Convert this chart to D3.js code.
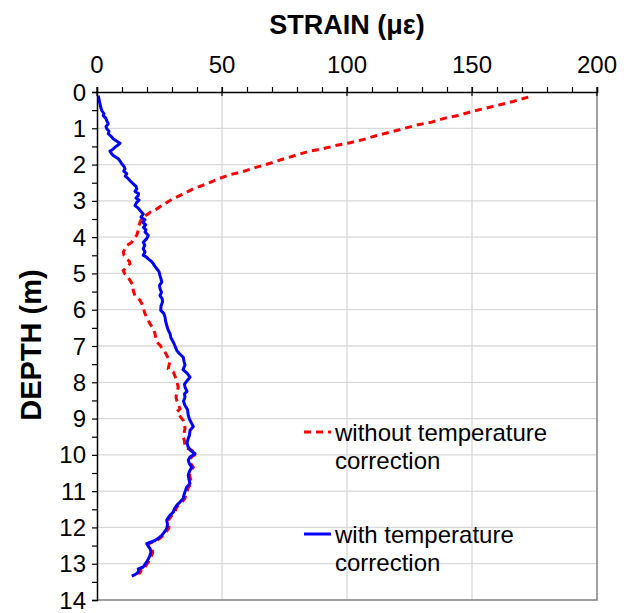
<!DOCTYPE html>
<html>
<head>
<meta charset="utf-8">
<script src="https://cdn.jsdelivr.net/npm/d3@7"></script>
<style>
  body { margin: 0; background: #fff; }
  text { font-family: Arial, "Liberation Sans", sans-serif; fill: #000; }
</style>
</head>
<body>
<div id="chart"></div>
<script>
// Strain profile along the pile
const xTicks = [0, 50, 100, 150, 200];
const yTicks = d3.range(0, 15);

// without temperature correction
const depthRaw = [0.14, 0.20, 0.26, 0.35, 0.44, 0.54, 0.65, 0.72, 0.83, 0.90, 1.01, 1.11, 1.20, 1.31, 1.40,
  1.47, 1.56, 1.64, 1.75, 1.86, 1.95, 2.07, 2.19, 2.28, 2.41, 2.55, 2.67, 2.83, 2.96, 3.05, 3.13, 3.22,
  3.30, 3.36, 3.42, 3.50, 3.59, 3.68, 3.77, 3.86, 3.95, 4.05, 4.14, 4.23, 4.32, 4.41, 4.50, 4.60, 4.67,
  4.73, 4.83, 4.92, 5.00, 5.06, 5.13, 5.19, 5.26, 5.33, 5.47, 5.54, 5.61, 5.68, 5.74, 5.83, 5.93, 6.02,
  6.11, 6.25, 6.39, 6.52, 6.66, 6.78, 6.89, 6.98, 7.08, 7.17, 7.30, 7.44, 7.53, 7.63, 7.72, 7.83, 7.95,
  8.05, 8.13, 8.22, 8.31, 8.40, 8.50, 8.60, 8.73, 8.82, 8.92, 9.05, 9.15, 9.28, 9.40, 9.51, 9.62, 9.79,
  9.88, 9.97, 10.06, 10.15, 10.25, 10.34, 10.45, 10.56, 10.68, 10.79, 10.90, 11.02, 11.10, 11.20, 11.30,
  11.39, 11.48, 11.58, 11.68, 11.80, 11.92, 12.03, 12.12, 12.22, 12.30, 12.36, 12.45, 12.52, 12.58, 12.68,
  12.77, 12.86, 12.95, 13.02, 13.09, 13.14, 13.20, 13.27, 13.30];
const strainRaw = [172.5, 169.5, 166.5, 161.2, 155.9, 149.9, 144.5, 139.2, 133.9, 128.5, 122.5, 117.2, 111.9, 106.5, 101.2,
  95.9, 90.5, 84.5, 79.2, 73.9, 69.9, 63.9, 58.5, 53.2, 47.9, 43.2, 38.5, 33.9, 29.9, 27.8, 25.9, 24.0,
  21.5, 20.5, 19.0, 17.8, 17.2, 16.8, 16.5, 16.3, 15.9, 14.6, 13.9, 11.9, 11.2, 10.5, 10.8, 11.9, 13.0,
  13.2, 11.9, 10.5, 11.0, 11.9, 12.6, 13.2, 13.8, 14.5, 14.5, 14.8, 15.2, 16.2, 17.2, 17.9, 18.5, 18.8,
  19.2, 20.2, 21.2, 22.5, 23.2, 23.5, 23.9, 25.2, 26.2, 27.2, 28.2, 29.2, 28.8, 28.5, 30.5, 31.2, 31.9,
  32.2, 32.5, 32.2, 31.9, 31.6, 31.9, 32.5, 33.2, 31.9, 33.0, 34.5, 35.0, 35.2, 34.8, 34.5, 35.0, 35.2,
  38.0, 39.8, 37.8, 37.0, 37.6, 38.5, 37.5, 37.0, 37.5, 37.8, 36.5, 36.0, 35.5, 35.2, 34.0,
  32.5, 31.6, 31.2, 29.8, 28.6, 28.8, 28.7, 27.6, 26.5, 25.2, 23.8, 20.6, 21.2, 22.0, 22.3,
  21.9, 21.2, 20.6, 19.9, 19.2, 17.5, 17.6, 17.0, 17.0];

// with temperature correction
const depthCor = [0.10, 0.20, 0.33, 0.42, 0.51, 0.60, 0.65, 0.72, 0.79, 0.88, 0.95, 1.01, 1.08, 1.15, 1.22,
  1.29, 1.35, 1.41, 1.47, 1.52, 1.58, 1.63, 1.70, 1.75, 1.80, 1.84, 1.92, 1.98, 2.05, 2.12, 2.18, 2.25,
  2.32, 2.39, 2.46, 2.53, 2.60, 2.67, 2.74, 2.80, 2.85, 2.92, 2.98, 3.05, 3.13, 3.20, 3.28, 3.36, 3.45,
  3.52, 3.59, 3.66, 3.73, 3.80, 3.86, 3.95, 4.04, 4.14, 4.22, 4.32, 4.41, 4.50, 4.55, 4.60, 4.67, 4.73,
  4.80, 4.87, 4.95, 5.06, 5.15, 5.24, 5.33, 5.42, 5.52, 5.61, 5.70, 5.79, 5.90, 6.02, 6.10, 6.20, 6.30,
  6.43, 6.55, 6.66, 6.78, 6.89, 7.00, 7.12, 7.20, 7.31, 7.42, 7.53, 7.65, 7.75, 7.86, 7.95, 8.05, 8.13,
  8.25, 8.32, 8.41, 8.52, 8.64, 8.75, 8.91, 9.02, 9.14, 9.22, 9.33, 9.45, 9.55, 9.67, 9.79, 9.88, 9.97,
  10.06, 10.15, 10.25, 10.34, 10.45, 10.56, 10.68, 10.79, 10.90, 11.02, 11.10, 11.20, 11.30, 11.39, 11.48,
  11.58, 11.68, 11.80, 11.92, 12.03, 12.12, 12.22, 12.30, 12.36, 12.45, 12.52, 12.58, 12.68, 12.77, 12.86,
  12.95, 13.02, 13.09, 13.14, 13.20, 13.27, 13.30, 13.34];
const strainCor = [0.5, 0.8, 1.2, 1.5, 1.9, 2.8, 2.5, 3.5, 3.9, 4.5, 3.6, 3.9, 4.8, 4.5, 5.6,
  6.5, 7.8, 9.2, 8.3, 7.2, 6.4, 5.2, 5.8, 6.5, 7.6, 8.5, 9.4, 9.9, 10.8, 11.2, 10.7, 11.9,
  11.3, 12.5, 13.4, 14.5, 15.6, 15.9, 15.2, 16.6, 16.5, 15.6, 16.8, 15.8, 15.2, 16.5, 17.4, 18.5, 17.6,
  19.2, 18.3, 19.5, 18.6, 19.6, 19.2, 20.5, 19.9, 18.5, 19.1, 18.5, 19.2, 18.5, 19.8, 20.5, 21.8, 22.5,
  23.1, 23.9, 24.8, 25.2, 25.6, 25.9, 25.0, 25.2, 25.8, 25.2, 26.1, 26.2, 25.6, 25.5, 26.7, 27.2, 27.4,
  27.9, 28.4, 29.2, 29.6, 30.5, 31.2, 31.9, 32.8, 34.5, 34.8, 35.2, 34.4, 36.0, 37.2, 36.1, 35.0, 35.2,
  36.0, 35.0, 35.2, 34.6, 35.2, 36.2, 36.5, 37.0, 37.9, 38.5, 37.2, 37.0, 36.5, 36.0, 36.5, 37.5, 39.2,
  37.2, 36.5, 37.0, 37.9, 37.0, 36.5, 36.8, 37.2, 35.8, 35.2, 34.8, 34.5, 33.2, 31.9, 31.0,
  30.5, 29.0, 27.9, 28.2, 27.9, 27.0, 25.9, 24.5, 23.2, 19.9, 20.5, 21.2, 21.6, 21.2, 20.6,
  19.9, 19.2, 18.5, 16.5, 16.8, 15.9, 15.2, 13.9];

const W = 629, H = 613;
const margin = { top: 92, right: 32, bottom: 13, left: 97 };

const svg = d3.select("#chart").append("svg")
  .attr("width", W)
  .attr("height", H);

const x = d3.scaleLinear().domain([0, 200]).range([margin.left, W - margin.right]);
const y = d3.scaleLinear().domain([0, 14]).range([margin.top, H - margin.bottom]);

// grid
svg.append("g").selectAll("line")
  .data(yTicks.slice(1, -1))
  .enter().append("line")
  .attr("x1", x(0)).attr("x2", x(200))
  .attr("y1", d => y(d)).attr("y2", d => y(d))
  .attr("stroke", "#d9d9d9").attr("stroke-width", 1.3);

svg.append("g").selectAll("line")
  .data(xTicks.slice(1, -1))
  .enter().append("line")
  .attr("x1", d => x(d)).attr("x2", d => x(d))
  .attr("y1", y(0)).attr("y2", y(14))
  .attr("stroke", "#d9d9d9").attr("stroke-width", 1.3);

// plot frame (right / bottom)
svg.append("path")
  .attr("d", `M${x(200)},${y(0)}V${y(14)}H${x(0)}`)
  .attr("fill", "none")
  .attr("stroke", "#808080")
  .attr("stroke-width", 1.5);

// curves
const line = d3.line()
  .x(d => x(d[1]))
  .y(d => y(d[0]));

svg.append("path")
  .datum(d3.zip(depthRaw, strainRaw))
  .attr("d", line)
  .attr("fill", "none")
  .attr("stroke", "#ff0000")
  .attr("stroke-width", 3)
  .attr("stroke-dasharray", "7,5");

svg.append("path")
  .datum(d3.zip(depthCor, strainCor))
  .attr("d", line)
  .attr("fill", "none")
  .attr("stroke", "#0000ff")
  .attr("stroke-width", 3)
  .attr("stroke-linejoin", "round");

// top axis
const xAxis = svg.append("g")
  .attr("transform", `translate(0,${y(0)})`)
  .call(d3.axisTop(x).tickValues(d3.range(0, 201, 10)).tickSize(5).tickFormat(""));
xAxis.select(".domain").attr("stroke", "#000").attr("stroke-width", 1.5);
xAxis.selectAll(".tick line").attr("stroke", "#000").attr("stroke-width", 1.2);

svg.append("g").selectAll("line")
  .data(xTicks)
  .enter().append("line")
  .attr("x1", d => x(d)).attr("x2", d => x(d))
  .attr("y1", y(0) - 5).attr("y2", y(0) + 4)
  .attr("stroke", "#000").attr("stroke-width", 1.2);

svg.append("g").selectAll("text")
  .data(xTicks)
  .enter().append("text")
  .attr("x", d => x(d))
  .attr("y", 73)
  .attr("text-anchor", "middle")
  .style("font-size", "24px")
  .text(d => d);

// left axis
const yAxis = svg.append("g")
  .attr("transform", `translate(${x(0)},0)`)
  .call(d3.axisLeft(y).tickValues(d3.range(0, 14.01, 0.5)).tickSize(5).tickFormat(""));
yAxis.select(".domain").attr("stroke", "#000").attr("stroke-width", 1.5);
yAxis.selectAll(".tick line").attr("stroke", "#000").attr("stroke-width", 1.2);

svg.append("g").selectAll("text")
  .data(yTicks)
  .enter().append("text")
  .attr("x", 86)
  .attr("y", d => y(d))
  .attr("dy", "0.36em")
  .attr("text-anchor", "end")
  .style("font-size", "24px")
  .text(d => d);

// axis titles
svg.append("text")
  .attr("x", 347)
  .attr("y", 34)
  .attr("text-anchor", "middle")
  .style("font-size", "27px")
  .style("font-weight", "bold")
  .text("STRAIN (με)");

svg.append("text")
  .attr("transform", `translate(41,345) rotate(-90)`)
  .attr("text-anchor", "middle")
  .style("font-size", "29px")
  .style("font-weight", "bold")
  .text("DEPTH (m)");

// legend
const legendItems = [
  { lines: ["without temperature", "correction"], color: "#ff0000", dash: "7,5", y: 432 },
  { lines: ["with temperature", "correction"], color: "#0000ff", dash: null, y: 534 }
];

legendItems.forEach(item => {
  svg.append("line")
    .attr("x1", 304).attr("x2", 331)
    .attr("y1", item.y).attr("y2", item.y)
    .attr("stroke", item.color)
    .attr("stroke-width", 3)
    .attr("stroke-dasharray", item.dash);

  item.lines.forEach((t, i) => {
    svg.append("text")
      .attr("x", 335)
      .attr("y", item.y + i * 28)
      .attr("dy", "0.36em")
      .style("font-size", "24px")
      .text(t);
  });
});
</script>
</body>
</html>
